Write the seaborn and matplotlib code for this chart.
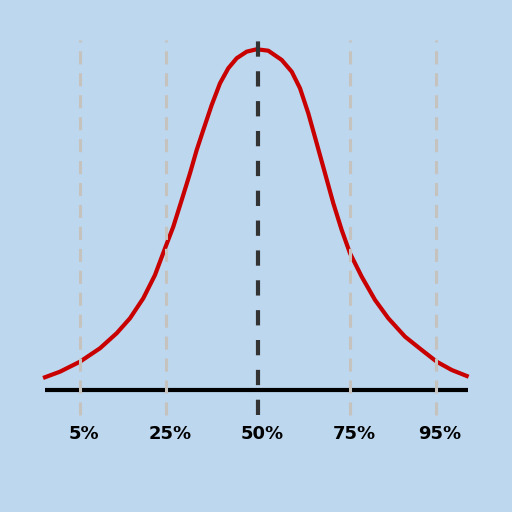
import numpy as np
import pandas as pd
import matplotlib
matplotlib.use("Agg")
import matplotlib.pyplot as plt
import seaborn as sns

# curve points (z-like position, density)
curve_x = [-2.130, -1.980, -1.780, -1.580, -1.413, -1.280, -1.147, -1.030, -0.930, -0.847,
           -0.763, -0.680, -0.613, -0.547, -0.463, -0.380, -0.297, -0.213, -0.113, -0.013,
           0.103, 0.237, 0.337, 0.420, 0.503, 0.587, 0.670, 0.753, 0.837, 0.920,
           1.037, 1.170, 1.303, 1.470, 1.637, 1.787, 1.937, 2.087]
curve_y = [0.0149, 0.0214, 0.0331, 0.0488, 0.0664, 0.0839, 0.1073, 0.1345, 0.1657, 0.1910,
           0.2222, 0.2535, 0.2807, 0.3041, 0.3333, 0.3587, 0.3763, 0.3880, 0.3957, 0.3985,
           0.3968, 0.3860, 0.3723, 0.3529, 0.3236, 0.2885, 0.2535, 0.2184, 0.1871, 0.1599,
           0.1325, 0.1053, 0.0839, 0.0624, 0.0468, 0.0331, 0.0234, 0.0164]

pct_labels = ['5%', '25%', '50%', '75%', '95%']
pct_x = [-1.78, -0.92, 0.00, 0.92, 1.78]

bg = '#BDD7EE'
plt.rcParams['lines.scale_dashes'] = False

fig = plt.figure(figsize=(5.12, 5.12), dpi=100, facecolor=bg)
ax = fig.add_axes([0, 0, 1, 1])
ax.set_facecolor(bg)

df = pd.DataFrame({'x': curve_x, 'y': curve_y})
sns.lineplot(data=df, x='x', y='y', ax=ax, color='#C80000', linewidth=3,
             zorder=3, sort=False)
ax.lines[-1].set_solid_joinstyle('round')

# baseline
ax.plot([-2.13, 2.10], [0, 0], color='black', linewidth=3, zorder=2,
        solid_capstyle='butt')

# percentile lines
for lab, xv in zip(pct_labels, pct_x):
    if lab == '50%':
        ax.plot([xv, xv], [-0.029, 0.409], color='#333333', linewidth=3,
                dashes=(11, 10.5), zorder=4)
    else:
        ax.plot([xv, xv], [-0.029, 0.409], color='#C6C2BE', linewidth=2.2,
                dashes=(9.4, 6.4), zorder=4)
    ax.annotate(lab, xy=(xv, -0.051), xytext=(3, 0), textcoords='offset points',
                ha='center', va='center', fontsize=13, fontweight='heavy',
                family='DejaVu Sans', color='black')

ax.set_xlim(-2.58, 2.54)
ax.set_ylim(-0.1427, 0.4561)
ax.axis('off')

fig.savefig('out.png', dpi=100, facecolor=bg)
